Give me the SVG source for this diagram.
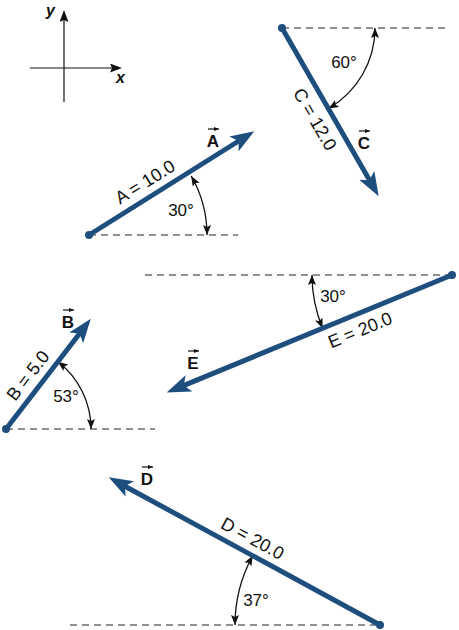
<svg xmlns="http://www.w3.org/2000/svg" width="459" height="630" viewBox="0 0 459 630">
<style>
text{font-family:"Liberation Sans",Arial,sans-serif;font-size:17px;fill:#111}
.ll{font-size:18px}
.vl{font-weight:bold}
.ax{font-weight:bold;font-style:italic;font-size:16px}
.vec{stroke:#1e4e7e;stroke-width:5;fill:none;marker-end:url(#big)}
.dash{stroke:#222;stroke-width:1.2;stroke-dasharray:7 5;fill:none}
.arc{stroke:#111;stroke-width:1.3;fill:none;marker-start:url(#sm);marker-end:url(#sm)}
.tail{fill:#1e4e7e}
.ov{stroke:#111;stroke-width:1.2;fill:none;marker-end:url(#tiny)}
</style>
<defs>
<marker id="big" markerUnits="userSpaceOnUse" markerWidth="24" markerHeight="18" viewBox="0 0 22 16" refX="6" refY="8" orient="auto"><path d="M0,0 L22,8 L0,16 L5,8 z" fill="#1e4e7e"/></marker>
<marker id="sm" markerUnits="userSpaceOnUse" markerWidth="10" markerHeight="8" viewBox="0 0 10 8" refX="10" refY="4" orient="auto-start-reverse"><path d="M0,0 L10,4 L0,8 L2,4 z" fill="#111"/></marker>
<marker id="tiny" markerUnits="userSpaceOnUse" markerWidth="5" markerHeight="4" viewBox="0 0 5 4" refX="5" refY="2" orient="auto"><path d="M0,0 L5,2 L0,4 z" fill="#111"/></marker>
<marker id="axa" markerUnits="userSpaceOnUse" markerWidth="12" markerHeight="9" viewBox="0 0 12 9" refX="2" refY="4.5" orient="auto"><path d="M0,0 L12,4.5 L0,9 L2,4.5 z" fill="#111"/></marker>
</defs>

<g id="axes">
<line x1="64" y1="102" x2="64" y2="20" stroke="#111" stroke-width="1.2" marker-end="url(#axa)"/>
<line x1="30" y1="68" x2="112" y2="68" stroke="#111" stroke-width="1.2" marker-end="url(#axa)"/>
<text class="ax" x="46" y="16">y</text>
<text class="ax" x="116" y="83">x</text>
</g>

<g id="connectors">
<line class="dash" x1="89" y1="235" x2="238" y2="235"/>
<line class="dash" x1="282" y1="28" x2="450" y2="28"/>
<line class="dash" x1="145" y1="275" x2="452" y2="275"/>
<line class="dash" x1="6" y1="429" x2="155" y2="429"/>
<line class="dash" x1="70" y1="625" x2="380" y2="625"/>
<path class="arc" d="M191.2,176 A118,118 0 0 1 207,235"/>
<path class="arc" d="M375,28 A93,93 0 0 1 328.5,108.5"/>
<path class="arc" d="M312,275 A140,140 0 0 0 322.6,328.3"/>
<path class="arc" d="M57.9,361.7 A85,85 0 0 1 91,429"/>
<path class="arc" d="M252.7,555.7 A145,145 0 0 0 235,625"/>
</g>

<g id="vecA">
<line class="vec" x1="89" y1="235" x2="239.5" y2="140.5"/>
<circle class="tail" cx="89" cy="235" r="4"/>
<text class="ll" transform="translate(153,194.8) rotate(-32)" text-anchor="middle" y="-9">A = 10.0</text>
<text x="181" y="216" text-anchor="middle">30°</text>
<text class="vl" x="213" y="147" text-anchor="middle">A</text>
<line class="ov" x1="208" y1="129" x2="219" y2="129"/>
</g>

<g id="vecC">
<line class="vec" x1="282" y1="28" x2="370" y2="181.1"/>
<circle class="tail" cx="282" cy="28" r="4"/>
<text class="ll" transform="translate(329.6,110.8) rotate(60)" text-anchor="middle" y="23">C = 12.0</text>
<text x="344" y="68" text-anchor="middle">60°</text>
<text class="vl" x="364" y="149" text-anchor="middle">C</text>
<line class="ov" x1="359" y1="131" x2="370" y2="131"/>
</g>

<g id="vecE">
<line class="vec" x1="452" y1="275" x2="182.8" y2="385.9"/>
<circle class="tail" cx="452" cy="275" r="4"/>
<text class="ll" transform="translate(354,315.4) rotate(-22.4)" text-anchor="middle" y="22">E = 20.0</text>
<text x="333" y="302" text-anchor="middle">30°</text>
<text class="vl" x="193" y="369" text-anchor="middle">E</text>
<line class="ov" x1="188" y1="351" x2="199" y2="351"/>
</g>

<g id="vecB">
<line class="vec" x1="6" y1="429" x2="80.2" y2="332.7"/>
<circle class="tail" cx="6" cy="429" r="4"/>
<text class="ll" transform="translate(40,384.8) rotate(-52.4)" text-anchor="middle" y="-9">B = 5.0</text>
<text x="66" y="402" text-anchor="middle">53°</text>
<text class="vl" x="68" y="328" text-anchor="middle">B</text>
<line class="ov" x1="63" y1="310" x2="74" y2="310"/>
</g>

<g id="vecD">
<line class="vec" x1="380" y1="625" x2="124" y2="485.7"/>
<circle class="tail" cx="380" cy="625" r="4"/>
<text class="ll" transform="translate(245.3,551.7) rotate(28.6)" text-anchor="middle" y="-9">D = 20.0</text>
<text x="256" y="606" text-anchor="middle">37°</text>
<text class="vl" x="147" y="485" text-anchor="middle">D</text>
<line class="ov" x1="142" y1="467" x2="153" y2="467"/>
</g>
</svg>
